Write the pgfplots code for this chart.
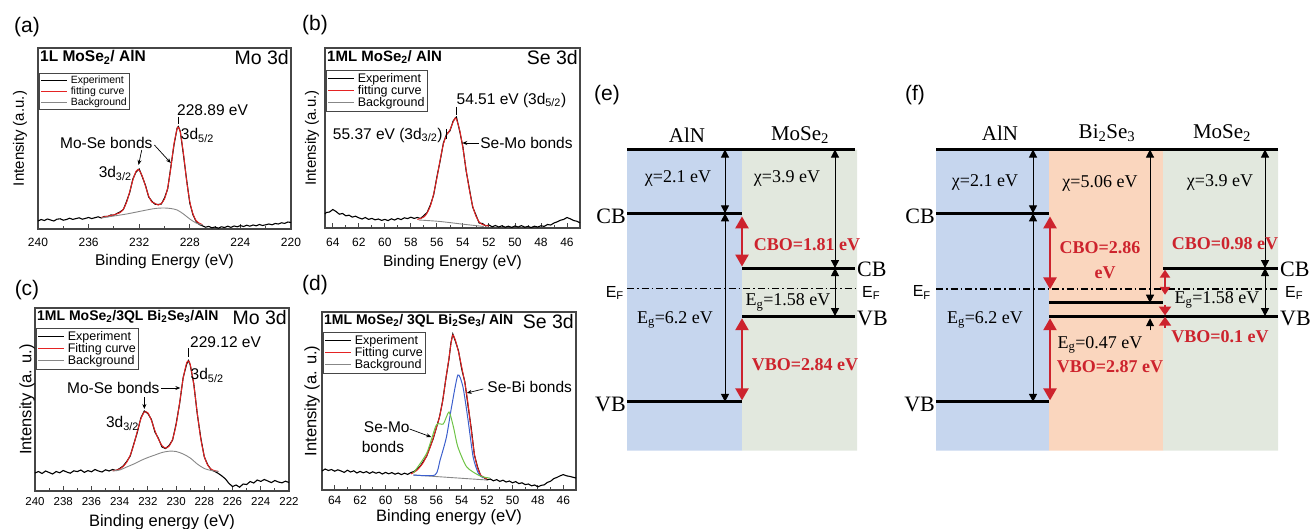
\documentclass[border=0pt]{standalone}
\usepackage{pgfplots}
\pgfplotsset{compat=1.18}
\usepackage{fontspec}
\setmainfont{Liberation Serif}
\setsansfont{Liberation Sans}
\usetikzlibrary{arrows.meta}

\definecolor{alnblue}{RGB}{198,214,238}
\definecolor{biorange}{RGB}{250,214,190}
\definecolor{mosgreen}{RGB}{226,232,222}
\definecolor{arrred}{RGB}{205,35,45}
\definecolor{fitred}{RGB}{228,35,35}
\definecolor{bggray}{RGB}{135,135,135}
\definecolor{frame}{RGB}{70,70,70}
\definecolor{bicomp}{RGB}{60,95,205}
\definecolor{mocomp}{RGB}{110,195,70}

\newcommand{\fs}[1]{\fontsize{#1}{#1}\selectfont}

\tikzset{
  lvl/.style={black, line width=3pt},
  barr/.style={black, line width=1pt, arrows={Triangle[width=8pt,length=8pt]-Triangle[width=8pt,length=8pt]}},
  bup/.style={black, line width=1pt, arrows={-Triangle[width=8pt,length=8pt]}},
  rarr/.style={arrred, line width=2.5pt, arrows={Triangle[width=13pt,length=12pt]-Triangle[width=13pt,length=12pt]}},
  rarrs/.style={arrred, line width=2pt, arrows={Triangle[width=10pt,length=8pt]-Triangle[width=10pt,length=8pt]}},
  rone/.style={arrred, line width=2pt, arrows={-Triangle[width=12pt,length=9pt]}},
  txt/.style={font=\rmfamily\fs{18}},
  rtxt/.style={font=\rmfamily\bfseries\fs{18}, text=arrred},
}

\pgfplotsset{
  xps/.style={
    scale only axis, x dir=reverse, ymin=0, ytick=\empty,
    clip=false, font=\sffamily,
    axis line style={line width=1.3pt, frame},
    xtick pos=bottom, tick align=inside,
    major tick style={line width=0.9pt, frame},
    minor tick style={line width=0.8pt, frame},
    major tick length=5pt, minor tick length=3pt,
    minor x tick num=1,
    /pgf/number format/assume math mode=true,
    /pgf/number format/1000 sep={},
    xticklabel style={font=\sffamily\fs{12}},
    every axis y label/.style={rotate=90, anchor=center, font=\sffamily\fs{15}},
    every axis x label/.style={anchor=center, font=\sffamily\fs{15.5}},
    legend cell align=left,
    legend image code/.code={\draw[##1] (0pt,0pt) -- (26pt,0pt);},
    legend style={anchor=north west, draw=frame, line width=0.8pt,
      inner sep=1pt, row sep=-2.5pt, font=\sffamily\fs{12.5},
      /tikz/every odd column/.append style={column sep=1pt}},
  },
  expt/.style={black, line width=1.1pt},
  fitc/.style={fitred, line width=1pt, smooth, tension=0.4},
  bgc/.style={bggray, line width=0.9pt, smooth},
  ann/.style={black, line width=0.7pt, forget plot},
  annarr/.style={black, line width=0.7pt, forget plot, -{Stealth[length=5pt,width=4pt]}},
}

\begin{document}
\begin{tikzpicture}
\useasboundingbox (0pt,0pt) rectangle (1313pt,528pt);

% ---------------- (a) ----------------
\begin{axis}[xps, at={(38pt,299pt)}, anchor=south west, width=253pt, height=181pt,
  xmin=220, xmax=240, ymax=181, xtick={220,224,...,240},
  ylabel={Intensity (a.u.)}, xlabel={Binding Energy (eV)},
  ylabel style={at={(axis description cs:-0.071,0.5)}},
  xlabel style={at={(axis description cs:0.5,-0.182)}},
  xticklabel style={yshift=-6pt},
  legend style={at={(axis description cs:0.005,0.862)}, font=\sffamily\fs{10.5}}]
\addplot[expt] coordinates {
 (240,8) (239.75,9.5) (239.5,8.5) (239.25,10) (239,9) (238.75,8) (238.5,9.8) (238.25,10.2)
 (238,8.8) (237.75,9.5) (237.5,10.8) (237.25,9.6) (237,10.4) (236.75,11.2) (236.5,9.8)
 (236.25,10.6) (236,11.5) (235.75,10.4) (235.5,11.3) (235.25,12.2) (235,11.0) (234.75,12.6)
 (234.5,12.4) (234.25,14.0) (234,13.8) (233.75,15.6) (233.5,17.2) (233.25,19.5) (233,27.5)
 (232.75,36.5) (232.5,50) (232.25,57) (232,60) (231.75,52) (231.5,43.5) (231.25,32)
 (231,27.8) (230.75,24.8) (230.5,24.5) (230.25,25) (230,31) (229.75,40) (229.5,62)
 (229.25,84) (229,101) (228.9,102.5) (228.75,97.5) (228.5,74) (228.25,49) (228,26)
 (227.75,14.2) (227.5,7.6) (227.25,4.5) (227,3.2) (226.75,1.8) (226.5,2.6) (226.25,1.2)
 (226,2.0) (225.75,0.8) (225.5,2.2) (225.25,1.5) (225,2.8) (224.75,1.6) (224.5,3.0)
 (224.25,2.2) (224,3.4) (223.75,2.5) (223.5,3.8) (223.25,2.8) (223,4.0) (222.75,3.2)
 (222.5,4.5) (222.25,3.5) (222,4.2) (221.75,5.0) (221.5,4.2) (221.25,5.5) (221,5.0)
 (220.75,6.2) (220.5,5.6) (220.25,7.0) (220,6.5)};
\addlegendentry{Experiment}
\addplot[fitc] coordinates {
 (235,11.5) (234.5,12.8) (234,14.2) (233.5,16.5) (233.25,20) (233,26.5) (232.75,37.3)
 (232.5,49) (232.25,57.8) (232.1,59.5) (232,58.9) (231.75,52.7) (231.5,42.7) (231.25,33)
 (231,27) (230.75,25.6) (230.5,24) (230.25,25.7) (230,30) (229.75,41) (229.5,61)
 (229.25,85) (229,100.4) (228.9,101.6) (228.75,96.8) (228.5,75.3) (228.25,48.2) (228,27.4)
 (227.75,15) (227.5,8.4) (227.25,5.8) (227,4.3)};
\addlegendentry{fitting curve}
\addplot[bgc] coordinates {
 (235,11) (234,13) (233,15) (232,17.5) (231,20) (230.5,20.8) (230,21) (229.5,20.5)
 (229,19) (228.5,15) (228,10) (227.5,6) (227,4)};
\addlegendentry{Background}
\node[anchor=north west, inner sep=2pt, font=\sffamily\bfseries\fs{15.5}] at (rel axis cs:0,1) {1L MoSe\textsubscript{2}/ AlN};
\node[anchor=north east, inner sep=2pt, font=\sffamily\fs{19.5}] at (rel axis cs:1,1) {Mo 3d};
\node[font=\sffamily\fs{21}] at (rel axis cs:0,1) [xshift=-11pt, yshift=21pt] {(a)};
\node[font=\sffamily\fs{15.5}] at (axis cs:226.2,119) {228.89 eV};
\addplot[ann] coordinates {(228.9,112) (228.9,105)};
\node[font=\sffamily\fs{15.5}] at (axis cs:227.4,94) {3d\textsubscript{5/2}};
\node[font=\sffamily\fs{15.5}] at (axis cs:234.6,86) {Mo-Se bonds};
\addplot[annarr] coordinates {(231.8,79) (232.05,64)};
\addplot[annarr] coordinates {(230.8,84) (229.5,66)};
\node[font=\sffamily\fs{15.5}] at (axis cs:233.9,56) {3d\textsubscript{3/2}};
\end{axis}

% ---------------- (b) ----------------
\begin{axis}[xps, at={(325pt,300pt)}, anchor=south west, width=255pt, height=180pt,
  xmin=45, xmax=64.6, ymax=180, xtick={46,48,...,64},
  ylabel={Intensity (a.u.)}, xlabel={Binding Energy (eV)},
  ylabel style={at={(axis description cs:-0.051,0.5)}},
  xlabel style={at={(axis description cs:0.5,-0.189)}},
  xticklabel style={yshift=-7pt},
  legend style={at={(axis description cs:0.005,0.878)}}]
\addplot[expt] coordinates {
 (64.6,14) (64.5,15.5) (64.25,16) (64,18.5) (63.75,16.5) (63.5,13.8) (63.25,14.5) (63,12.2)
 (62.75,12.8) (62.5,10.9) (62.25,11.8) (62,10.2) (61.75,9.0) (61.5,10.5) (61.25,8.6)
 (61,9.6) (60.75,8.2) (60.5,9.0) (60.25,7.6) (60,8.6) (59.75,7.4) (59.5,9.2) (59.25,8.0)
 (59,9.6) (58.75,8.4) (58.5,10.2) (58.25,9.4) (58,10.8) (57.75,9.6) (57.5,10.5) (57.25,9.5)
 (57,12.5) (56.75,15.5) (56.5,23) (56.25,33) (56,51) (55.75,67) (55.5,85) (55.25,94)
 (55,97) (54.75,107) (54.5,111) (54.25,97) (54,81) (53.75,57) (53.5,39) (53.25,21)
 (53,13) (52.75,5) (52.5,4.5) (52.25,2) (52,3) (51.75,1.2) (51.5,2.5) (51.25,1.0)
 (51,2.2) (50.75,0.8) (50.5,1.8) (50.25,0.6) (50,2.0) (49.75,1.0) (49.5,2.4) (49.25,0.8)
 (49,1.6) (48.75,0.5) (48.5,1.8) (48.25,1.0) (48,2.2) (47.75,1.6) (47.5,3.5) (47.25,3.0)
 (47,5.0) (46.75,6.2) (46.5,7.8) (46.25,8.6) (46,10.5) (45.75,9.2) (45.5,7.5) (45.25,6.8)
 (45,5.2)};
\addlegendentry{Experiment}
\addplot[fitc] coordinates {
 (57.5,8.5) (57,11) (56.75,15) (56.5,22) (56.25,34) (56,50) (55.75,68) (55.5,84)
 (55.25,93) (55,98) (54.75,106) (54.6,110) (54.5,109) (54.25,98) (54,80) (53.75,58)
 (53.5,38) (53.25,22) (53,12) (52.75,6) (52.5,3.5) (52.25,2.5) (52,2)};
\addlegendentry{fitting curve}
\addplot[bgc] coordinates {(57.4,8) (56,6.8) (55,5.4) (54,3.8) (53,2.4) (52.4,1.5)};
\addlegendentry{Background}
\node[anchor=north west, inner sep=2pt, font=\sffamily\bfseries\fs{15}] at (rel axis cs:0,1) {1ML MoSe\textsubscript{2}/ AlN};
\node[anchor=north east, inner sep=2pt, font=\sffamily\fs{19.5}] at (rel axis cs:1,1) {Se 3d};
\node[font=\sffamily\fs{21}] at (rel axis cs:0,1) [xshift=-10pt, yshift=23pt] {(b)};
\node[anchor=west, font=\sffamily\fs{15.5}] at (axis cs:54.75,128) {54.51 eV (3d\textsubscript{5/2})};
\addplot[ann] coordinates {(54.5,121) (54.5,113)};
\node[anchor=east, font=\sffamily\fs{15.5}] at (axis cs:55.3,93) {55.37 eV (3d\textsubscript{3/2})};
\addplot[ann] coordinates {(55.25,99) (55.25,89)};
\addplot[ann, {Stealth[length=5pt,width=4pt]}-] coordinates {(54.05,85) (52.75,85)};
\node[anchor=west, inner sep=1pt, font=\sffamily\fs{15.5}] at (axis cs:52.75,85) {Se-Mo bonds};
\end{axis}

% ---------------- (c) ----------------
\begin{axis}[xps, at={(35pt,37pt)}, anchor=south west, width=254pt, height=183pt,
  xmin=222, xmax=240, ymax=183, xtick={222,224,...,240},
  xticklabel style={font=\sffamily\fs{11.5}, yshift=-3pt},
  ylabel={Intensity (a. u.)}, xlabel={Binding energy (eV)},
  ylabel style={at={(axis description cs:-0.031,0.5)}, font=\sffamily\fs{16.5}},
  xlabel style={at={(axis description cs:0.5,-0.172)}, font=\sffamily\fs{16.5}},
  legend style={at={(axis description cs:0.005,0.89)}}]
\addplot[expt] coordinates {
 (240,18) (239.75,19.5) (239.5,17.5) (239.25,20) (239,18.5) (238.75,17) (238.5,19.5)
 (238.25,18.2) (238,20.5) (237.75,19) (237.5,17.8) (237.25,20.2) (237,19.4) (236.75,21)
 (236.5,18.6) (236.25,20.4) (236,19.2) (235.75,21.5) (235.5,20) (235.25,19) (235,21.2)
 (234.75,20) (234.5,21.5) (234.25,20.5) (234,22.5) (233.75,25) (233.5,29.5) (233.25,35)
 (233,47) (232.75,58.5) (232.5,73) (232.25,80) (232,77.5) (231.75,71.5) (231.5,59)
 (231.25,52.5) (231,44) (230.75,42.5) (230.5,45.5) (230.25,51) (230,67) (229.75,87.5)
 (229.5,113.5) (229.25,127) (229.12,130.5) (229,126) (228.75,107.5) (228.5,77) (228.25,53)
 (228,34) (227.75,26) (227.5,21) (227.25,19.5) (227,17.5) (226.75,15) (226.5,12)
 (226.25,7.5) (226,4.5) (225.75,6) (225.5,3.8) (225.25,7) (225,6.5) (224.75,9.5) (224.5,8)
 (224.25,11) (224,9.6) (223.75,11.5) (223.5,10) (223.25,8.4) (223,10.5) (222.75,9)
 (222.5,8.2) (222.25,9.8) (222,8.5)};
\addlegendentry{Experiment}
\addplot[fitc] coordinates {
 (234.5,20.3) (234.25,20.8) (234,22) (233.75,24.5) (233.5,28.8) (233.25,35.9) (233,46.3)
 (232.75,59.7) (232.5,72) (232.25,79) (232,78.2) (231.75,70.6) (231.5,60.3) (231.25,51.7)
 (231,45.5) (230.75,42.9) (230.5,44.8) (230.25,51.7) (230,66.2) (229.75,88.3) (229.5,112.6)
 (229.25,128.3) (229.12,130) (229,126.7) (228.75,106.5) (228.5,77.9) (228.25,52)
 (228,34.6) (227.75,25.6) (227.5,21.7) (227.25,20.3) (227,19.5)};
\addlegendentry{Fitting curve}
\addplot[bgc] coordinates {
 (234.5,20) (234,21) (233.5,24) (233,27) (232.5,30.5) (232,33.5) (231.5,36) (231,38.5)
 (230.5,39.8) (230,39.5) (229.5,37) (229,33) (228.5,27) (228,22.5) (227.5,20.5) (227,19.5)};
\addlegendentry{Background}
\node[anchor=north west, inner sep=2pt, font=\sffamily\bfseries\fs{14}] at (rel axis cs:0,1) {1ML MoSe\textsubscript{2}/3QL Bi\textsubscript{2}Se\textsubscript{3}/AlN};
\node[anchor=north east, inner sep=2pt, font=\sffamily\fs{19.5}] at (rel axis cs:1,1) {Mo 3d};
\node[font=\sffamily\fs{21}] at (rel axis cs:0,1) [xshift=-8pt, yshift=18pt] {(c)};
\node[anchor=west, font=\sffamily\fs{15.5}] at (axis cs:229.25,149) {229.12 eV};
\addplot[ann] coordinates {(229.12,143) (229.12,134)};
\node[font=\sffamily\fs{15.5}] at (axis cs:227.8,116) {3d\textsubscript{5/2}};
\node[font=\sffamily\fs{15.5}] at (axis cs:234.45,103) {Mo-Se bonds};
\addplot[annarr] coordinates {(231.05,103) (229.7,103)};
\addplot[annarr] coordinates {(232.25,94) (232.25,82)};
\node[font=\sffamily\fs{15.5}] at (axis cs:233.8,68) {3d\textsubscript{3/2}};
\end{axis}

% ---------------- (d) ----------------
\begin{axis}[xps, at={(322pt,38pt)}, anchor=south west, width=254pt, height=178pt,
  xmin=45, xmax=65, ymax=178, xtick={46,48,...,64},
  xticklabel style={yshift=-3pt},
  ylabel={Intensity (a. u.)}, xlabel={Binding energy (eV)},
  ylabel style={at={(axis description cs:-0.039,0.5)}, font=\sffamily\fs{16.5}},
  xlabel style={at={(axis description cs:0.5,-0.155)}, font=\sffamily\fs{16.5}},
  legend style={at={(axis description cs:0.005,0.888)}}]
\addplot[expt] coordinates {
 (65,19) (64.75,21) (64.5,19.5) (64.25,20.5) (64,18.8) (63.75,20.2) (63.5,19) (63.25,17.6)
 (63,19.8) (62.75,18) (62.5,19.2) (62.25,17) (62,18.6) (61.75,17.2) (61.5,18.4) (61.25,16.6)
 (61,18.2) (60.75,16.8) (60.5,17.8) (60.25,16) (60,17.6) (59.75,16.2) (59.5,17.4)
 (59.25,15.8) (59,17) (58.75,15.4) (58.5,16.8) (58.25,15.6) (58,17.4) (57.75,18.6)
 (57.5,21) (57.25,24) (57,29) (56.75,34) (56.5,43) (56.25,51) (56,62) (55.75,73) (55.5,89)
 (55.25,111) (55,131) (54.85,147) (54.7,156) (54.5,149) (54.25,139) (54,121) (53.75,108)
 (53.5,84) (53.25,62) (53,35) (52.75,23) (52.5,14) (52.25,12.5) (52,10.2) (51.75,11)
 (51.5,9.2) (51.25,10.4) (51,8.6) (50.75,9.8) (50.5,8.0) (50.25,9.0) (50,7.2) (49.75,8.4)
 (49.5,6.4) (49.25,7.2) (49,5.4) (48.75,6.0) (48.5,4.2) (48.25,5.0) (48,3.2) (47.75,4.6)
 (47.5,5.2) (47.25,7.6) (47,8.8) (46.75,11.4) (46.5,12.6) (46.25,14.2) (46,15.4)
 (45.75,14.2) (45.5,13.6) (45.25,12.8) (45,12)};
\addlegendentry{Experiment}
\addplot[fitc] coordinates {
 (58,16) (57.5,20) (57,28) (56.5,42) (56,62) (55.75,73) (55.5,89) (55.25,111) (55,132)
 (54.85,146) (54.7,155) (54.5,150) (54.25,138) (54,123) (53.75,107) (53.5,86) (53.25,60)
 (53,36) (52.75,22) (52.5,15) (52.25,12.5) (52,11)};
\addlegendentry{Fitting curve}
\addplot[bgc] coordinates {(57.8,15) (52,10)};
\addlegendentry{Background}
\addplot[bicomp, line width=1pt, smooth, tension=0.4, forget plot] coordinates {
 (57.8,15) (56.1,15) (55.7,30) (55.2,53) (54.8,83) (54.3,115) (53.9,103) (53.5,70)
 (53.1,33) (52.7,17) (52.3,12)};
\addplot[mocomp, line width=1pt, smooth, tension=0.4, forget plot] coordinates {
 (57.8,17) (56.75,37) (56,65) (55.45,66) (55,78) (54.65,63) (54.3,43) (53.6,23)
 (52.55,14) (51.8,12)};
\node[anchor=north west, inner sep=2pt, font=\sffamily\bfseries\fs{14}] at (rel axis cs:0,1) {1ML MoSe\textsubscript{2}/ 3QL Bi\textsubscript{2}Se\textsubscript{3}/ AlN};
\node[anchor=north east, inner sep=2pt, font=\sffamily\fs{19.5}] at (rel axis cs:1,1) {Se 3d};
\node[font=\sffamily\fs{21}] at (rel axis cs:0,1) [xshift=-7pt, yshift=27pt] {(d)};
\node[anchor=west, font=\sffamily\fs{15.5}] at (axis cs:52.25,103) {Se-Bi bonds};
\addplot[annarr] coordinates {(52.3,101) (53.6,97)};
\node[font=\sffamily\fs{15.5}] at (axis cs:59.9,63) {Se-Mo};
\node[font=\sffamily\fs{15.5}] at (axis cs:60.2,43) {bonds};
\addplot[annarr] coordinates {(58.1,61) (56.4,53)};
\end{axis}

% ---------------- (e) and (f) band diagrams ----------------
\begin{axis}[at={(590pt,77.5pt)}, anchor=south west, scale only axis,
  width=723pt, height=301pt, xmin=590, xmax=1313, ymin=-9.9, ymax=0,
  axis lines=none, clip=false]
% (e) regions
\addplot[fill=alnblue, draw=none] coordinates {(627,0) (742,0) (742,-9.9) (627,-9.9) (627,0)};
\addplot[fill=mosgreen, draw=none] coordinates {(742,0) (857,0) (857,-9.9) (742,-9.9) (742,0)};
% (f) regions
\addplot[fill=alnblue, draw=none] coordinates {(936,0) (1049,0) (1049,-9.9) (936,-9.9) (936,0)};
\addplot[fill=biorange, draw=none] coordinates {(1049,0) (1163,0) (1163,-9.9) (1049,-9.9) (1049,0)};
\addplot[fill=mosgreen, draw=none] coordinates {(1163,0) (1278,0) (1278,-9.9) (1163,-9.9) (1163,0)};
% Fermi levels
\addplot[black, line width=1.2pt, dash pattern=on 7pt off 3pt on 1.5pt off 3pt] coordinates {(627,-4.56) (855,-4.56)};
\addplot[black, line width=1.2pt, dash pattern=on 7pt off 3pt on 1.5pt off 3pt] coordinates {(936,-4.59) (1278,-4.59)};
% (e) levels
\addplot[lvl] coordinates {(627,0) (855,0)};
\addplot[lvl] coordinates {(627,-2.1) (742,-2.1)};
\addplot[lvl] coordinates {(627,-8.3) (742,-8.3)};
\addplot[lvl] coordinates {(742,-3.9) (855,-3.9)};
\addplot[lvl] coordinates {(742,-5.48) (855,-5.48)};
% (f) levels
\addplot[lvl] coordinates {(936,0) (1278,0)};
\addplot[lvl] coordinates {(936,-2.1) (1049,-2.1)};
\addplot[lvl] coordinates {(936,-8.3) (1049,-8.3)};
\addplot[lvl] coordinates {(1049,-5.04) (1163,-5.04)};
\addplot[lvl] coordinates {(1049,-5.48) (1278,-5.48)};
\addplot[lvl] coordinates {(1163,-3.9) (1278,-3.9)};
% (e) arrows
\addplot[barr] coordinates {(725,0) (725,-2.1)};
\addplot[barr] coordinates {(725,-2.1) (725,-8.3)};
\addplot[barr] coordinates {(835,0) (835,-3.9)};
\addplot[barr] coordinates {(835,-3.9) (835,-5.48)};
\addplot[rarr] coordinates {(742,-2.2) (742,-3.85)};
\addplot[rarr] coordinates {(742,-5.55) (742,-8.25)};
% (f) arrows
\addplot[barr] coordinates {(1033,0) (1033,-2.1)};
\addplot[barr] coordinates {(1033,-2.1) (1033,-8.3)};
\addplot[barr] coordinates {(1150,0) (1150,-5.04)};
\addplot[bup] coordinates {(1150,-5.95) (1150,-5.55)};
\addplot[barr] coordinates {(1265,0) (1265,-3.9)};
\addplot[barr] coordinates {(1265,-3.9) (1265,-5.48)};
\addplot[rarr] coordinates {(1050,-2.2) (1050,-4.6)};
\addplot[rarr] coordinates {(1050,-5.55) (1050,-8.25)};
\addplot[rarrs] coordinates {(1165,-3.95) (1165,-4.78)};
\addplot[rone] coordinates {(1165,-5.12) (1165,-5.46)};
\addplot[rone] coordinates {(1165,-5.86) (1165,-5.5)};
% (e) text
\node[font=\sffamily\fs{21}] at (axis cs:607,1.79) {(e)};
\node[font=\rmfamily\fs{21}] at (axis cs:687,0.48) {AlN};
\node[font=\rmfamily\fs{21}] at (axis cs:800,0.48) {MoSe\textsubscript{2}};
\node[txt] at (axis cs:678,-0.94) {χ=2.1 eV};
\node[txt] at (axis cs:787,-0.94) {χ=3.9 eV};
\node[anchor=east, inner sep=1pt, font=\rmfamily\fs{22}] at (axis cs:627,-2.2) {CB};
\node[anchor=east, inner sep=1pt, font=\rmfamily\fs{22}] at (axis cs:627,-8.4) {VB};
\node[anchor=east, inner sep=1pt, font=\sffamily\fs{16}] at (axis cs:625,-4.72) {E\textsubscript{F}};
\node[anchor=west, inner sep=1pt, font=\rmfamily\fs{22}] at (axis cs:856,-3.93) {CB};
\node[anchor=west, inner sep=1pt, font=\sffamily\fs{16}] at (axis cs:861,-4.72) {E\textsubscript{F}};
\node[anchor=west, inner sep=1pt, font=\rmfamily\fs{22}] at (axis cs:856,-5.55) {VB};
\node[txt] at (axis cs:675,-5.61) {E\textsubscript{g}=6.2 eV};
\node[txt] at (axis cs:788,-5.02) {E\textsubscript{g}=1.58 eV};
\node[rtxt] at (axis cs:807,-3.14) {CBO=1.81 eV};
\node[rtxt] at (axis cs:805,-7.09) {VBO=2.84 eV};
% (f) text
\node[font=\sffamily\fs{21}] at (axis cs:915,1.79) {(f)};
\node[font=\rmfamily\fs{21}] at (axis cs:1000,0.54) {AlN};
\node[font=\rmfamily\fs{21}] at (axis cs:1107,0.54) {Bi\textsubscript{2}Se\textsubscript{3}};
\node[font=\rmfamily\fs{21}] at (axis cs:1222,0.54) {MoSe\textsubscript{2}};
\node[txt] at (axis cs:985,-1.10) {χ=2.1 eV};
\node[txt] at (axis cs:1100,-1.10) {χ=5.06 eV};
\node[txt] at (axis cs:1220,-1.10) {χ=3.9 eV};
\node[anchor=east, inner sep=1pt, font=\rmfamily\fs{22}] at (axis cs:936,-2.2) {CB};
\node[anchor=east, inner sep=1pt, font=\rmfamily\fs{22}] at (axis cs:936,-8.4) {VB};
\node[anchor=east, inner sep=1pt, font=\sffamily\fs{16}] at (axis cs:932,-4.7) {E\textsubscript{F}};
\node[anchor=west, inner sep=1pt, font=\rmfamily\fs{22}] at (axis cs:1279,-3.93) {CB};
\node[anchor=west, inner sep=1pt, font=\sffamily\fs{16}] at (axis cs:1284,-4.72) {E\textsubscript{F}};
\node[anchor=west, inner sep=1pt, font=\rmfamily\fs{22}] at (axis cs:1279,-5.55) {VB};
\node[rtxt] at (axis cs:1100,-3.24) {CBO=2.86};
\node[rtxt] at (axis cs:1105,-4.06) {eV};
\node[rtxt] at (axis cs:1225,-3.08) {CBO=0.98 eV};
\node[txt] at (axis cs:1217,-4.95) {E\textsubscript{g}=1.58 eV};
\node[txt] at (axis cs:985,-5.61) {E\textsubscript{g}=6.2 eV};
\node[txt] at (axis cs:1100,-6.43) {E\textsubscript{g}=0.47 eV};
\node[rtxt] at (axis cs:1110,-7.15) {VBO=2.87 eV};
\node[rtxt] at (axis cs:1220,-6.17) {VBO=0.1 eV};
\end{axis}
\end{tikzpicture}
\end{document}
